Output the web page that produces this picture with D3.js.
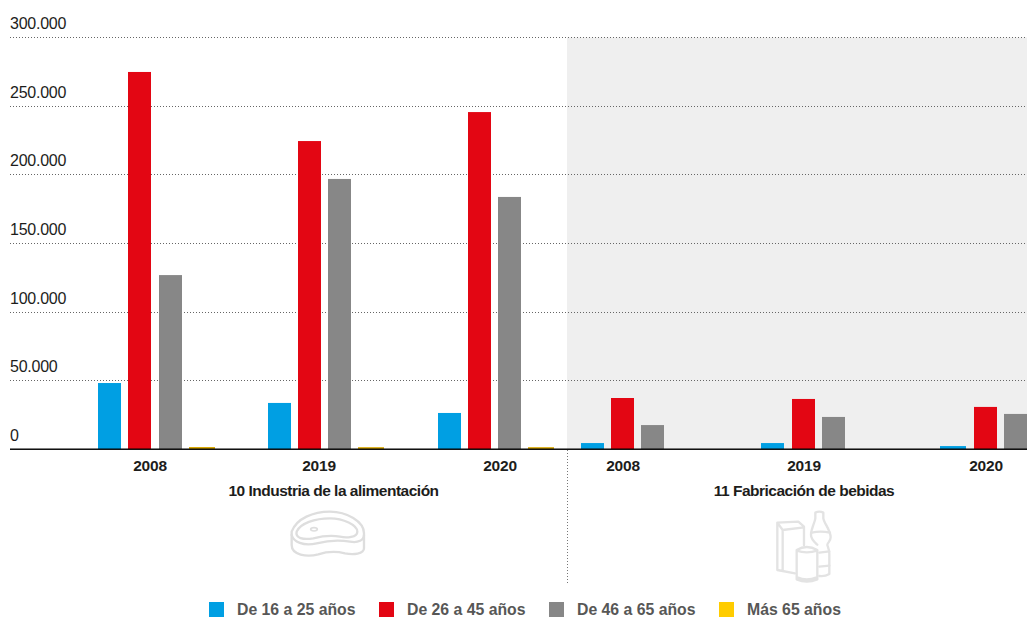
<!DOCTYPE html>
<html><head><meta charset="utf-8">
<script src="https://cdn.jsdelivr.net/npm/d3@7"></script>
<style>html,body{margin:0;padding:0;background:#fff}svg{display:block}text{font-family:"Liberation Sans",Arial,sans-serif}</style>
</head><body><svg id="c" width="1027" height="617"></svg>
<script>
const groupKeys = ["a2008","a2019","a2020","b2008","b2019","b2020"];
const yearLabels = ["2008","2019","2020","2008","2019","2020"];
const sectors = ["10 Industria de la alimentación","11 Fabricación de bebidas"];
const seriesNames = ["De 16 a 25 años","De 26 a 45 años","De 46 a 65 años","Más 65 años"];
const seriesColors = ["#009fe3","#e30613","#878787","#ffcc00"];
const young = [48400,33900,26600,4700,4700,2500];
const adult = [274900,224600,245700,37500,36800,31000];
const senior = [127000,197000,183900,17800,23700,25900];
const older = [1800,1700,1700,0,0,0];
const yTicks = [0,50000,100000,150000,200000,250000,300000];

const svg = d3.select("#c");
const y = d3.scaleLinear().domain([0,300000]).range([449.5,37.5]);
const xStart = {
  [seriesNames[0]]: d3.scaleOrdinal().domain(groupKeys).range([98,268,438,581,761,940]),
  [seriesNames[1]]: d3.scaleOrdinal().domain(groupKeys).range([128,298,468,611,792,974]),
  [seriesNames[2]]: d3.scaleOrdinal().domain(groupKeys).range([159,328,498,641,822,1004]),
  [seriesNames[3]]: d3.scaleOrdinal().domain(groupKeys).range([189,358,528,0,0,0])
};
const barWidth = v => v < 3000 ? 26 : 23;
const fmt = v => d3.format(",")(v).replace(/,/g,".");

svg.append("rect").attr("x",567).attr("y",y(300000)).attr("width",460).attr("height",y(0)-y(300000)).attr("fill","#efefef");

const grid = svg.append("g");
yTicks.slice(1).forEach(t=>{
  grid.append("line").attr("x1",10).attr("x2",1027).attr("y1",Math.floor(y(t))+.5).attr("y2",Math.floor(y(t))+.5)
    .attr("stroke","#666").attr("stroke-width",1).attr("stroke-dasharray","1 2");
});
svg.append("g").selectAll("text").data(yTicks).join("text")
  .attr("x",10).attr("y",d=>y(d)-8.5).attr("font-size",16).attr("letter-spacing",-0.25).attr("fill","#1d1d1b").text(fmt);

[young,adult,senior,older].forEach((vals,si)=>{
  const name = seriesNames[si];
  svg.append("g").selectAll("rect").data(vals.map((v,i)=>({v,k:groupKeys[i]})).filter(d=>d.v>0)).join("rect")
    .attr("x",d=>xStart[name](d.k)).attr("width",d=>barWidth(d.v))
    .attr("y",d=>y(d.v)).attr("height",d=>y(0)-y(d.v)).attr("fill",si===3?"#dba800":seriesColors[si]);
});

svg.append("line").attr("x1",10).attr("x2",1027).attr("y1",448.5).attr("y2",448.5).attr("stroke","#000").attr("stroke-opacity",0.5);
svg.append("line").attr("x1",10).attr("x2",1027).attr("y1",449.5).attr("y2",449.5).attr("stroke","#111");
svg.append("line").attr("x1",567.5).attr("x2",567.5).attr("y1",450).attr("y2",583).attr("stroke","#777").attr("stroke-dasharray","1 2");

const labelX = d3.scaleOrdinal().domain(groupKeys).range([150,319,500,623,804,986]);
svg.append("g").selectAll("text").data(groupKeys).join("text")
  .attr("x",d=>labelX(d)).attr("y",471).attr("text-anchor","middle").attr("font-size",15.5).attr("letter-spacing",-0.2).attr("font-weight",700).attr("fill","#1d1d1b")
  .text((d,i)=>yearLabels[i]);
const sectorX = d3.scaleOrdinal().domain(sectors).range([333.5,804]);
svg.append("g").selectAll("text").data(sectors).join("text")
  .attr("x",d=>sectorX(d)).attr("y",496).attr("text-anchor","middle").attr("font-size",15.5).attr("letter-spacing",-0.5).attr("font-weight",700).attr("fill","#1d1d1b").text(d=>d);

// Icons (zoomed-crop coordinates, scaled to a third)
const meat = svg.append("g").attr("transform","translate(250,440) scale(0.3333)").attr("fill","none").attr("stroke","#dedede").attr("stroke-width",7).attr("stroke-linejoin","round").attr("stroke-linecap","round");
meat.append("path").attr("d","M125 275 C140 235 190 215 240 215 C290 215 342 245 342 280 L342 325 C342 342 310 345 285 340 C255 333 230 335 205 343 C170 352 125 345 125 315 Z");
meat.append("path").attr("d","M125 285 C130 305 160 320 200 310 C240 300 270 300 300 305 C325 310 342 300 342 285");
meat.append("path").attr("d","M140 275 C150 250 195 235 240 235 C280 235 322 255 322 275 C322 292 290 295 270 290 C240 285 210 290 190 295 C160 300 135 295 140 275 Z");
meat.append("ellipse").attr("cx",192).attr("cy",268).attr("rx",10).attr("ry",5).attr("stroke-width",5);

const drink = svg.append("g").attr("transform","translate(740,500) scale(0.3333)").attr("fill","none").attr("stroke","#e3e3e3").attr("stroke-width",7).attr("stroke-linejoin","round").attr("stroke-linecap","round");
drink.append("path").attr("d","M165 220 L112 210 L112 68 L175 65 L192 80 L192 135 M112 68 L128 90 L192 82 M128 90 L128 212");
drink.append("path").attr("d","M226 38 Q238 32 250 38 L250 55 C252 70 272 90 272 112 C272 125 262 128 262 135 C264 142 268 150 268 160 L268 222 Q255 230 238 228 M226 38 L226 55 C224 70 213 85 213 105 C213 118 222 125 232 134");
drink.append("path").attr("d","M215 98 Q242 92 270 98 M238 158 L268 154 M238 200 L268 197");
drink.append("path").attr("d","M170 150 L170 238 Q200 252 232 238 L232 150 Q200 132 170 150 Z M170 152 Q200 162 232 152 M172 232 Q200 244 230 232");

// Legend
const legX = d3.scaleOrdinal().domain(seriesNames).range([209,379,549,719]);
const leg = svg.append("g").selectAll("g").data(seriesNames).join("g");
leg.append("rect").attr("x",d=>legX(d)).attr("y",602).attr("width",15).attr("height",15).attr("fill",(d,i)=>seriesColors[i]);
leg.append("text").attr("x",d=>legX(d)+28).attr("y",615).attr("font-size",15.8).attr("font-weight",700).attr("fill","#575756").text(d=>d);
</script></body></html>
